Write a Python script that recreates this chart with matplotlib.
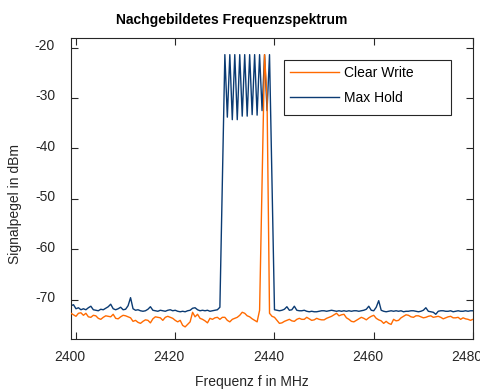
import numpy as np
import matplotlib
matplotlib.use("Agg")
import matplotlib.pyplot as plt
from matplotlib.patches import Rectangle
from matplotlib.transforms import ScaledTranslation

plt.rcParams['font.family'] = ['Liberation Sans', 'DejaVu Sans']
plt.rcParams['axes.unicode_minus'] = False

# Frequenzraster (MHz), 0.5 MHz Schritte
freq = np.arange(2399.0, 2480.01, 0.5)

# Clear Write (dBm)
clear_write = [
    -72.7, -73.0, -73.3, -72.7, -72.6, -73.1, -72.7, -73.4, -73.5, -73.1,
    -73.2, -73.7, -73.9, -73.5, -73.2, -73.3, -73.4, -72.9, -73.7, -73.8,
    -73.4, -73.1, -73.2, -73.4, -73.6, -74.3, -74.1, -74.5, -74.7, -74.3,
    -74.0, -74.1, -74.6, -73.8, -73.4, -73.5, -73.6, -74.1, -73.5, -73.3,
    -73.5, -73.7, -74.1, -74.4, -74.1, -75.1, -75.4, -74.9, -74.4, -72.5,
    -73.4, -72.9, -73.7, -73.9, -74.2, -74.6, -73.7, -73.9, -73.6, -73.5,
    -73.9, -73.5, -73.5, -74.1, -74.4, -73.9, -73.7, -73.5, -73.1, -72.5,
    -72.7, -73.2, -73.4, -73.8, -74.1, -74.4, -72.1, -47.0, -21.4, -30.0,
    -72.7, -73.3, -73.5, -74.1, -74.7, -74.6, -74.3, -74.1, -73.9, -74.2,
    -74.3, -73.9, -73.7, -73.9, -73.9, -73.5, -73.8, -74.1, -74.0, -73.7,
    -73.9, -74.0, -74.0, -73.7, -73.5, -73.3, -73.0, -72.7, -73.2, -73.0,
    -72.9, -73.6, -73.9, -74.3, -74.4, -74.1, -73.8, -73.5, -73.7, -74.0,
    -73.6, -73.3, -73.1, -73.7, -74.0, -74.2, -74.7, -74.3, -74.7, -74.9,
    -73.9, -74.2, -74.1, -73.6, -73.3, -73.0, -73.1, -73.4, -73.5, -73.2,
    -73.2, -73.4, -73.6, -73.5, -73.3, -73.2, -73.5, -73.4, -73.3, -73.5,
    -73.8, -73.6, -73.4, -73.3, -73.6, -73.6, -73.5, -73.9, -73.6, -73.8,
    -73.9, -74.1, -73.9,
]

# Max Hold (dBm)
max_hold = [
    -71.2, -71.0, -71.8, -71.6, -72.0, -71.8, -72.0, -71.6, -71.3, -72.0,
    -72.1, -72.2, -71.9, -72.0, -71.7, -71.4, -70.9, -71.8, -72.0, -71.8,
    -71.5, -72.0, -71.9, -71.2, -69.6, -71.8, -72.1, -72.0, -72.2, -72.3,
    -72.2, -71.9, -71.4, -72.1, -72.2, -72.3, -72.1, -72.2, -72.3, -72.1,
    -72.0, -72.2, -72.1, -72.3, -72.4, -72.3, -72.4, -72.2, -72.1, -71.7,
    -71.6, -72.0, -72.2, -72.1, -72.2, -72.1, -72.3, -72.2, -72.1, -72.0,
    -71.5, -46.0, -21.4, -33.8, -21.4, -34.3, -21.4, -34.3, -21.4, -33.6,
    -21.4, -33.6, -21.4, -33.3, -21.4, -33.4, -21.4, -32.5, -21.4, -32.5,
    -21.4, -47.0, -72.0, -72.1, -72.2, -72.1, -71.9, -71.4, -72.1, -72.0,
    -71.3, -72.1, -72.2, -72.2, -72.1, -72.3, -72.4, -72.3, -72.4, -72.4,
    -72.3, -72.2, -72.2, -72.3, -72.2, -72.1, -72.2, -72.3, -72.2, -72.3,
    -72.2, -72.3, -72.2, -72.3, -72.2, -72.2, -72.3, -72.2, -72.1, -71.9,
    -71.3, -72.1, -72.2, -71.5, -70.2, -72.1, -72.3, -72.4, -72.3, -72.2,
    -72.3, -72.2, -72.3, -72.2, -72.4, -72.3, -72.3, -72.2, -72.2, -72.3,
    -72.4, -72.3, -72.1, -71.6, -72.3, -72.4, -72.5, -72.9, -72.3, -72.2,
    -72.2, -72.3, -72.3, -72.2, -72.4, -72.3, -72.2, -72.3, -72.3, -72.2,
    -72.3, -72.2, -72.2,
]

x_ticks = [2400, 2420, 2440, 2460, 2480]
y_ticks = [-70, -60, -50, -40, -30, -20]

fig = plt.figure(figsize=(4.81, 3.90), dpi=100)
ax = fig.add_axes([71 / 481, 51 / 390, 402 / 481, 301 / 390])

ax.plot(freq, max_hold, color='#0b3b73', lw=1.0, label='Max Hold', zorder=2)
ax.plot(freq, clear_write, color='#ff6a00', lw=1.0, label='Clear Write', zorder=3)

ax.set_xlim(2399, 2480)
ax.set_ylim(-77.8, -18.1)
ax.set_xticks(x_ticks)
ax.set_yticks(y_ticks)
ax.tick_params(direction='in', top=True, right=True, length=5, width=0.8,
               labelsize=10, colors='#262626')
ax.tick_params(axis='x', pad=8)
ax.tick_params(axis='y', pad=11.5)
for s in ax.spines.values():
    s.set_linewidth(0.8)
    s.set_color('#262626')

# Beschriftungen leicht versetzt wie im Original
for lab in ax.get_xticklabels():
    lab.set_transform(lab.get_transform() + ScaledTranslation(-6 / 100, 0, fig.dpi_scale_trans))
for lab in ax.get_yticklabels():
    lab.set_transform(lab.get_transform() + ScaledTranslation(0, 3 / 100, fig.dpi_scale_trans))

# Legende (Rahmen separat, breiter wie im Original)
handles, labels = ax.get_legend_handles_labels()
leg = fig.legend(handles[::-1], labels[::-1], loc='upper left',
                 bbox_to_anchor=(284 / 481, 1 - 60 / 390), borderaxespad=0,
                 frameon=False, fontsize=10, handlelength=3.5, labelspacing=0.8,
                 borderpad=0.45, handletextpad=0.35)
fig.add_artist(Rectangle((284 / 481, 1 - 115 / 390), 167 / 481, 55 / 390,
                         transform=fig.transFigure, facecolor='white',
                         edgecolor='#262626', lw=0.8, zorder=4))
leg.set_zorder(5)

fig.text(232 / 481, 1 - 20 / 390, 'Nachgebildetes Frequenzspektrum', ha='center', va='center',
         fontsize=10, fontweight='bold')
fig.text(252 / 481, 1 - 382 / 390, 'Frequenz f in MHz', ha='center', va='center', fontsize=10,
         color='#262626')
fig.text(15 / 481, 1 - 204 / 390, 'Signalpegel in dBm', ha='center', va='center', fontsize=10,
         rotation=90, color='#262626')

fig.savefig('out.png', dpi=100)
